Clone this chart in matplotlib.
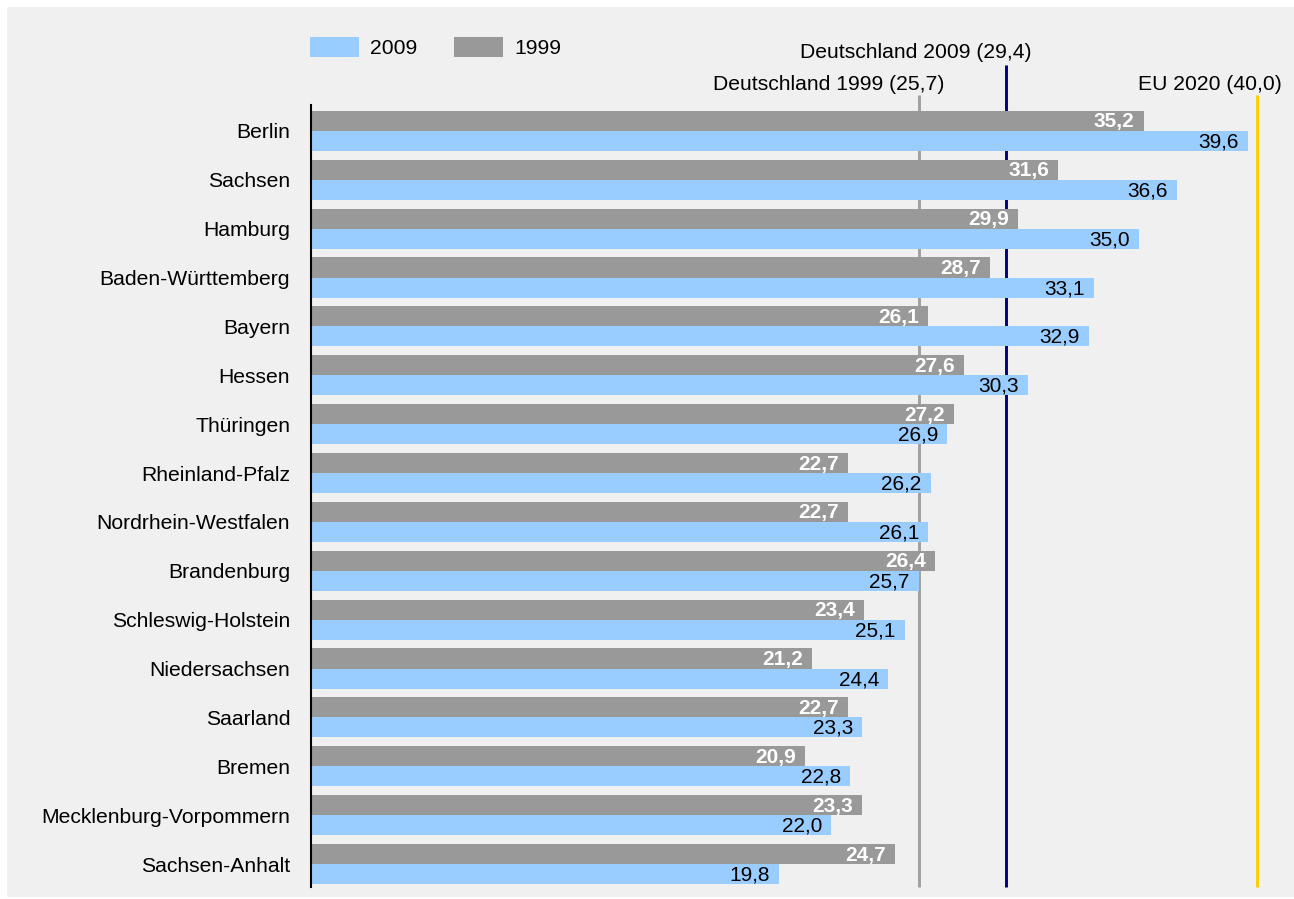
import numpy as np
import matplotlib
matplotlib.use("Agg")
import matplotlib.pyplot as plt
from matplotlib.patches import Rectangle

plt.rcParams['font.family'] = ['Liberation Sans', 'DejaVu Sans']

#------------------------------------------------------------
laender = ["Berlin", "Sachsen", "Hamburg", "Baden-Württemberg", "Bayern", "Hessen",
           "Thüringen", "Rheinland-Pfalz", "Nordrhein-Westfalen", "Brandenburg",
           "Schleswig-Holstein", "Niedersachsen", "Saarland", "Bremen",
           "Mecklenburg-Vorpommern", "Sachsen-Anhalt"]
werte_1999 = [35.2, 31.6, 29.9, 28.7, 26.1, 27.6, 27.2, 22.7, 22.7, 26.4, 23.4, 21.2, 22.7, 20.9, 23.3, 24.7]
werte_2009 = [39.6, 36.6, 35.0, 33.1, 32.9, 30.3, 26.9, 26.2, 26.1, 25.7, 25.1, 24.4, 23.3, 22.8, 22.0, 19.8]

ref_werte = [25.7, 29.4, 40.0]
ref_labels = ["Deutschland 1999 (25,7)", "Deutschland 2009 (29,4)", "EU 2020 (40,0)"]
ref_farben = ["#a0a0a0", "#000080", "#ffcc00"]

#------------------------------------------------------------
W, H = 1294, 899
fig = plt.figure(figsize=(W / 100, H / 100), dpi=100)
fig.patch.set_facecolor("white")
fig.patches.append(Rectangle((7 / W, 2 / H), 1 - 7 / W, 1 - 9 / H, transform=fig.transFigure,
                             facecolor="#f0f0f0", edgecolor="none", zorder=-5))

ax = fig.add_axes([311 / W, 12 / H, 981.5 / W, 782 / H])
ax.set_facecolor("none")
ax.set_zorder(1)

y = np.arange(len(laender))
h = 0.41
fs = 15.2
fs_bar = 15.0

# reference lines (behind bars, reaching up above the axes)
ref_top = [-0.737, -1.35, -0.737]
ref_text_y = [-0.941, -1.596, -0.941]
for v, lab, c, t, ty in zip(ref_werte, ref_labels, ref_farben, ref_top, ref_text_y):
    ax.plot([v, v], [15.47, t], color=c, lw=2.1, zorder=1, clip_on=False, solid_capstyle="butt")
    ax.text(v + 1.06, ty, lab, ha="right", va="center", fontsize=fs, color="black", clip_on=False)

b1999 = ax.barh(y - h / 2, werte_1999, height=h, color="#999999", label="1999", zorder=2)
b2009 = ax.barh(y + h / 2, werte_2009, height=h, color="#99ccff", label="2009", zorder=2)

for i in range(len(laender)):
    ax.annotate(f"{werte_1999[i]:.1f}".replace(".", ","), (werte_1999[i], y[i] - h / 2),
                xytext=(-9, -1), textcoords="offset pixels", ha="right", va="center",
                fontsize=fs_bar, color="white", fontweight="bold", zorder=3)
    ax.annotate(f"{werte_2009[i]:.1f}".replace(".", ","), (werte_2009[i], y[i] + h / 2),
                xytext=(-9, -1), textcoords="offset pixels", ha="right", va="center",
                fontsize=fs_bar, color="black", zorder=3)

ax.set_xlim(0, 41.5)
ax.set_ylim(15.47, -0.53)
ax.set_yticks(y)
ax.set_yticklabels(laender, fontsize=fs)
ax.tick_params(axis="y", length=0, pad=15)
ax.xaxis.set_visible(False)
for s in ["top", "right", "bottom"]:
    ax.spines[s].set_visible(False)
ax.spines["left"].set_linewidth(1.5)
ax.spines["left"].set_zorder(4)

ax.legend(handles=[b2009, b1999], loc="upper left", bbox_to_anchor=(310 / W, 1 - 37 / H),
          bbox_transform=fig.transFigure, ncol=2, frameon=False, fontsize=fs,
          handlelength=2.3, handleheight=1.1, handletextpad=0.55, columnspacing=1.75,
          borderpad=0, borderaxespad=0)

plt.savefig("out.png", dpi=100, facecolor=fig.get_facecolor())
